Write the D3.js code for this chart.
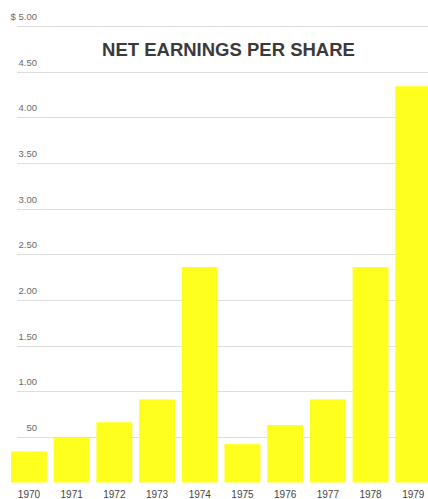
<!DOCTYPE html>
<html>
<head>
<meta charset="utf-8">
<script src="https://cdn.jsdelivr.net/npm/d3@7"></script>
<style>
  html, body { margin: 0; padding: 0; background: #fff; }
  svg { display: block; font-family: "Liberation Sans", Arial, sans-serif; }
</style>
</head>
<body>
<svg id="chart" width="428" height="499"></svg>
<script>
// Net earnings per share, 1970–1979 (dollars)
const years = ["1970", "1971", "1972", "1973", "1974", "1975", "1976", "1977", "1978", "1979"];
const earnings = [0.34, 0.49, 0.66, 0.91, 2.36, 0.42, 0.63, 0.91, 2.36, 4.34];
const tickValues = [0.5, 1, 1.5, 2, 2.5, 3, 3.5, 4, 4.5, 5];
const tickLabels = ["50", "1.00", "1.50", "2.00", "2.50", "3.00", "3.50", "4.00", "4.50", "$ 5.00"];

const W = 428, H = 499;
const svg = d3.select("#chart");

const y = d3.scaleLinear().domain([0, 5]).range([482.5, 26]);
const x = d3.scaleBand().domain(years).range([7.6, 434.6])
  .paddingInner(0.16).paddingOuter(0.08);

// horizontal gridlines
svg.append("g").selectAll("line").data(tickValues).join("line")
  .attr("x1", 17).attr("x2", W)
  .attr("y1", d => Math.round(y(d)) + 0.5)
  .attr("y2", d => Math.round(y(d)) + 0.5)
  .attr("stroke", "#dedede").attr("stroke-width", 1);

// value labels sitting just above each gridline
svg.append("g").selectAll("text").data(tickValues).join("text")
  .attr("x", 37).attr("y", d => y(d) - 6)
  .attr("text-anchor", "end")
  .attr("font-size", 9.5).attr("fill", "#6a6a6a")
  .text((d, i) => tickLabels[i]);

// bars
svg.append("g").selectAll("rect").data(earnings).join("rect")
  .attr("x", (d, i) => x(years[i]))
  .attr("width", x.bandwidth())
  .attr("y", d => y(d))
  .attr("height", d => y(0) - y(d))
  .attr("fill", "#ffff1e");

// year labels
const xAxis = d3.axisBottom(x).tickSize(0).tickPadding(0);
const gx = svg.append("g").attr("transform", `translate(0,${y(0)})`).call(xAxis);
gx.select(".domain").remove();
gx.selectAll("text")
  .attr("y", 15).attr("dy", null)
  .attr("font-size", 10).attr("fill", "#444")
  .attr("font-family", "Liberation Sans, Arial, sans-serif");

// title
svg.append("text")
  .attr("x", 228.5).attr("y", 56)
  .attr("text-anchor", "middle")
  .attr("font-size", 18.5).attr("font-weight", "bold")
  .attr("fill", "#3a3a3a")
  .text("NET EARNINGS PER SHARE");
</script>
</body>
</html>
